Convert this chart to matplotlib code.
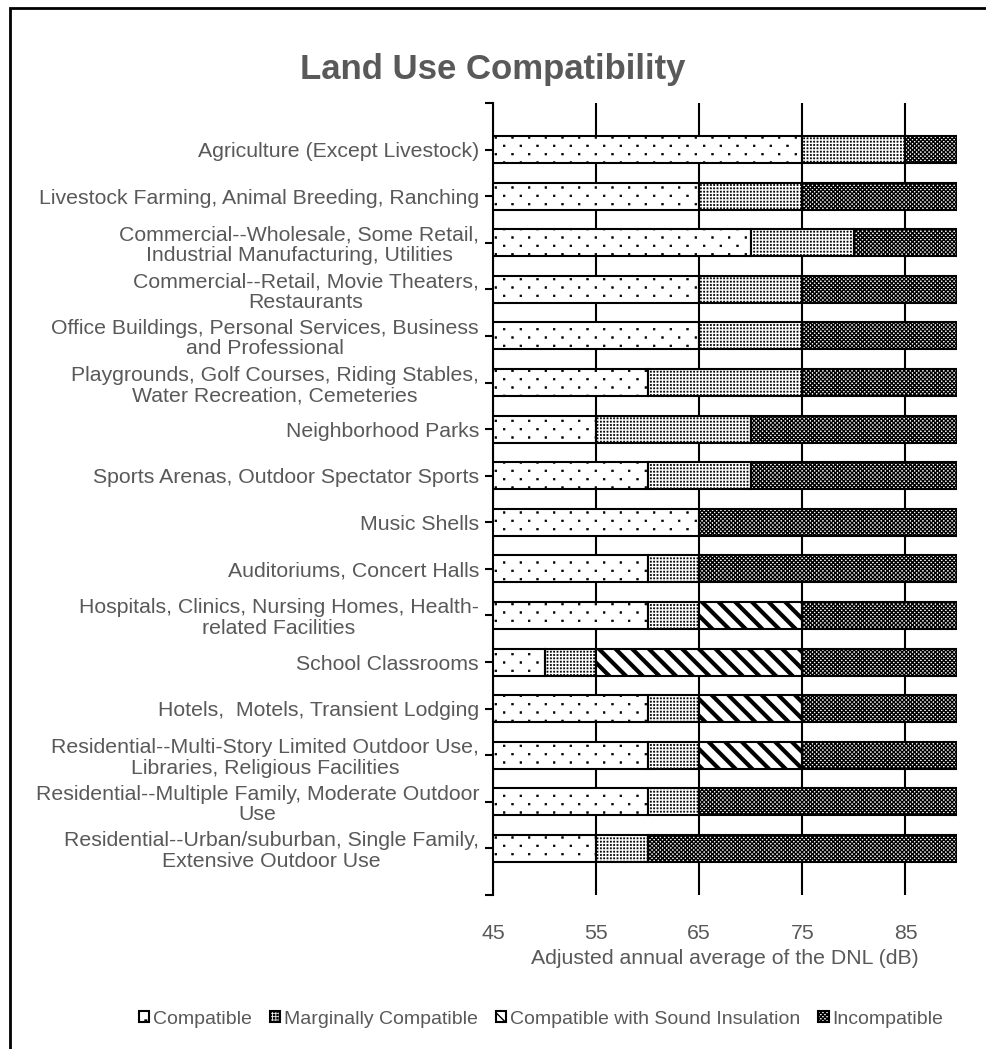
import matplotlib
matplotlib.use("Agg")
import matplotlib.pyplot as plt
import matplotlib.hatch as mhatch
from matplotlib.path import Path
from matplotlib.patches import Patch, Rectangle
import numpy as np

plt.rcParams['font.family'] = ['Liberation Sans', 'DejaVu Sans']

categories = [
    "Agriculture (Except Livestock)",
    "Livestock Farming, Animal Breeding, Ranching",
    "Commercial--Wholesale, Some Retail,\nIndustrial Manufacturing, Utilities",
    "Commercial--Retail, Movie Theaters,\nRestaurants",
    "Office Buildings, Personal Services, Business\nand Professional",
    "Playgrounds, Golf Courses, Riding Stables,\nWater Recreation, Cemeteries",
    "Neighborhood Parks",
    "Sports Arenas, Outdoor Spectator Sports",
    "Music Shells",
    "Auditoriums, Concert Halls",
    "Hospitals, Clinics, Nursing Homes, Health-\nrelated Facilities",
    "School Classrooms",
    "Hotels,  Motels, Transient Lodging",
    "Residential--Multi-Story Limited Outdoor Use,\nLibraries, Religious Facilities",
    "Residential--Multiple Family, Moderate Outdoor\nUse",
    "Residential--Urban/suburban, Single Family,\nExtensive Outdoor Use",
]
base = 45
compatible = [30, 20, 25, 20, 20, 15, 10, 15, 20, 15, 15, 5, 15, 15, 15, 10]
marginal = [10, 10, 10, 10, 10, 15, 15, 10, 0, 5, 5, 5, 5, 5, 5, 5]
insulation = [0, 0, 0, 0, 0, 0, 0, 0, 0, 0, 10, 20, 10, 10, 0, 0]
incompatible = [5, 15, 10, 15, 15, 15, 20, 20, 25, 25, 15, 15, 15, 15, 25, 30]
series_names = ["Compatible", "Marginally Compatible",
                "Compatible with Sound Insulation", "Incompatible"]
xticks = [45, 55, 65, 75, 85]


# --- custom dot-lattice hatch styles (sparse '*' and dense 'o') ---
class DotLattice(mhatch.HatchPatternBase):
    def __init__(self, hatch, density):
        specs = []
        if '*' in hatch:
            specs.append((6, 12, True, 0.016))
        if 'o' in hatch:
            specs.append((30, 30, False, 0.011))
        pts = []
        for ncols, nrows, stagger, size in specs:
            for r in range(nrows):
                yy = (r + 0.5) / nrows
                off = 0.5 / ncols if (stagger and r % 2) else 0.0
                for c in range(ncols):
                    xx = (c + 0.25) / ncols + off
                    pts.append((xx, yy, size))
        self.pts = pts
        self.num_vertices = len(pts) * 5

    def set_vertices_and_codes(self, vertices, codes):
        sq = np.array([[-1, -1], [1, -1], [1, 1], [-1, 1], [-1, -1]], float)
        for i, (xx, yy, s) in enumerate(self.pts):
            vertices[i * 5:(i + 1) * 5] = sq * (s / 2) + [xx, yy]
            codes[i * 5] = Path.MOVETO
            codes[i * 5 + 1:i * 5 + 4] = Path.LINETO
            codes[i * 5 + 4] = Path.CLOSEPOLY

    get_vertices_and_codes = set_vertices_and_codes


mhatch._hatch_types = [t for t in mhatch._hatch_types
                       if t not in (mhatch.Stars, mhatch.SmallCircles)] + [DotLattice]

gray = '#595959'
fs = 15.3
fig = plt.figure(figsize=(9.86, 10.49), dpi=100)
W, H = 986, 1049
ax = fig.add_axes([493 / W, 1 - 895 / H, (957 - 493) / W, (895 - 103) / H])

hatches = ['*', 'o', '\\\\', 'xxxxxxxx']
hlw = [0.5, 0.5, 3.0, 1.0]
series = [compatible, marginal, insulation, incompatible]
y = np.arange(len(categories))
left = np.full(len(categories), float(base))
for s, h, lw in zip(series, hatches, hlw):
    vals = np.array(s, dtype=float)
    with plt.rc_context({'hatch.linewidth': lw}):
        bars = ax.barh(y, vals, left=left, height=0.58, color='white',
                       edgecolor='black', linewidth=1.5, hatch=h, zorder=3)
    for b in bars:
        if hasattr(b, 'set_hatch_linewidth'):
            b.set_hatch_linewidth(lw)
        if b.get_width() == 0:
            b.set_visible(False)
    left = left + vals

ax.set_xlim(45, 90)
ax.set_ylim(len(categories), -1)
ax.set_xticks(xticks)
ax.set_xticklabels([str(t) for t in xticks], color=gray, fontsize=fs)
ax.tick_params(axis='x', length=0, pad=21)
yt = list(range(-1, len(categories) + 1))
ax.set_yticks(yt)
ax.set_yticklabels([''] + categories + [''], color=gray, fontsize=fs,
                   multialignment='center', linespacing=1.1)
ax.tick_params(axis='y', length=6, width=1.5, color='black', pad=4)
for s in ['top', 'right', 'bottom']:
    ax.spines[s].set_visible(False)
ax.spines['left'].set_linewidth(1.5)
ax.grid(axis='x', color='black', linewidth=1.5, zorder=0)
ax.set_axisbelow(True)
ax.set_xlabel("Adjusted annual average of the DNL (dB)", color=gray,
              fontsize=fs, labelpad=4)

fig.text(493 / W, 1 - 70 / H, "Land Use Compatibility", ha='center',
         va='center', fontsize=25, fontweight='bold', color=gray)

handles = []
for name, h, lw in zip(series_names, hatches, hlw):
    with plt.rc_context({'hatch.linewidth': lw}):
        p = Patch(facecolor='white', edgecolor='black', hatch=h,
                  linewidth=1.5, label=name)
    if hasattr(p, 'set_hatch_linewidth'):
        p.set_hatch_linewidth(lw)
    handles.append(p)
fig.legend(handles=handles, loc='center', ncol=4,
           bbox_to_anchor=(541 / W, 1 - 1019 / H), frameon=False,
           fontsize=14, labelcolor=gray, handlelength=0.55, handleheight=0.55,
           handletextpad=0.2, columnspacing=0.9)

fig.patches.append(Rectangle((9.5 / W, -0.1), 1.2, 1 - 7.5 / H + 0.1,
                             transform=fig.transFigure, fill=False,
                             edgecolor='black', linewidth=2, zorder=10))

fig.savefig("out.png", dpi=100)
